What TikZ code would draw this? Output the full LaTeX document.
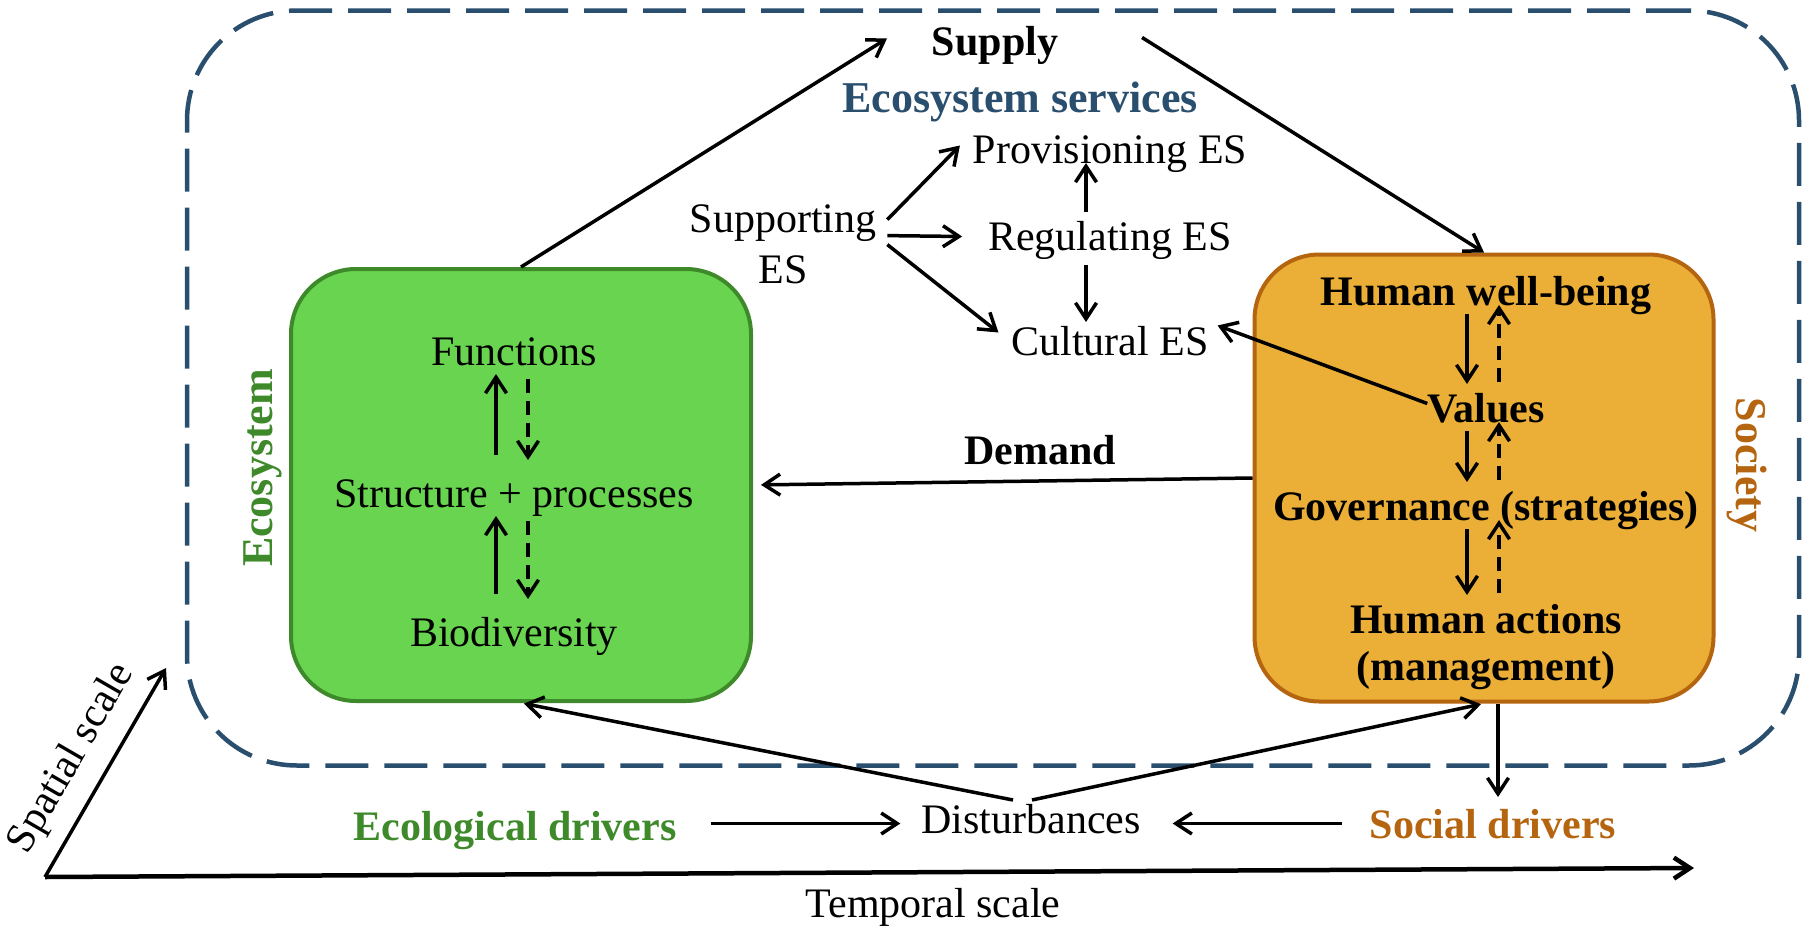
\documentclass[tikz,border=0pt]{standalone}
\usepackage{fontspec}
\setmainfont{Liberation Serif}
\usetikzlibrary{%
    arrows.meta,
    calc,
    positioning
}
\definecolor{esblue}{HTML}{294E6E}
\definecolor{ecofill}{HTML}{69D44F}
\definecolor{ecoline}{HTML}{3E8A2B}
\definecolor{socfill}{HTML}{EBAF37}
\definecolor{socline}{HTML}{B5650F}
\tikzset{headarrow/.style = {-{Straight Barb[length=16pt,width=21pt]}}}
\tikzset{feedback/.style = {dash pattern=on 14pt off 8pt,headarrow}}
\tikzset{lbl/.style = {inner sep=0pt,outer sep=0pt,text height=28pt,text depth=9pt,anchor=base}}
\tikzset{bigbox/.style = {draw,line width=4pt,rounded corners=65pt}}

\begin{document}
\begin{tikzpicture}[x=1pt,y=-1pt,line width=3.5pt]
    \fontsize{42}{51}\selectfont
    \useasboundingbox (0,0) rectangle (1804,926);

    \node[draw=esblue,line width=4.5pt,dash pattern=on 43pt off 16pt,rounded corners=110pt,
          minimum width=1612pt,minimum height=755pt] (frame) at (993,388) {};
    \node[bigbox,draw=ecoline,fill=ecofill,minimum width=460pt,minimum height=432pt] (ecosys) at (521,485) {};
    \node[bigbox,draw=socline,fill=socfill,minimum width=459pt,minimum height=447pt] (society) at (1484,478) {};

    \node[lbl,text=ecoline,font=\fontsize{44}{50}\selectfont\bfseries,rotate=90] (ecolabel) at (272,468) {Ecosystem};
    \node[lbl,text=socline,font=\fontsize{44}{50}\selectfont\bfseries,rotate=-90] (soclabel) at (1736,465) {Society};

    \node[lbl] (functions) at (514,365) {Functions};
    \node[lbl,below=105pt of functions] (structure) {Structure + processes};
    \node[lbl,below=102pt of structure] (biodiv) {Biodiversity};

    \node[lbl,font=\bfseries] (wellbeing) at (1486,305) {Human well-being};
    \node[lbl,font=\bfseries,below=80pt of wellbeing] (values) {Values};
    \node[lbl,font=\bfseries,below=61pt of values] (governance) {Governance (strategies)};
    \node[lbl,font=\bfseries,below=76pt of governance] (actions) {Human actions};
    \node[lbl,font=\bfseries,below=10pt of actions] (mgmt) {(management)};

    \node[lbl,font=\bfseries] (supply) at (995,55) {Supply};
    \node[lbl,text=esblue,font=\fontsize{44}{50}\selectfont\bfseries] (services) at (1020,112) {Ecosystem services};
    \node[lbl] (reg) at (1110,250) {Regulating ES};
    \node[lbl,above=50pt of reg] (prov) {Provisioning ES};
    \node[lbl,below=68pt of reg] (cult) {Cultural ES};
    \node[align=center,inner sep=0pt,outer sep=0pt,anchor=north] (supp) at (783,205) {Supporting\\ES};
    \node[lbl,font=\bfseries] (demand) at (1040,464) {Demand};

    \node[lbl] (disturb) at (1031,833) {Disturbances};
    \node[lbl,text=ecoline,font=\bfseries] (ecodrivers) at (515,840) {Ecological drivers};
    \node[lbl,text=socline,font=\bfseries] (socdrivers) at (1493,838) {Social drivers};
    \node[lbl] (temporal) at (933,917) {Temporal scale};

    % scale axes
    \coordinate (origin) at (45,877);
    \coordinate (ttip) at (1694,868);
    \coordinate (stip) at (166,668);
    \draw[headarrow,line width=4.5pt] (origin) -- (ttip);
    \draw[headarrow] (origin) -- (stip)
        node[pos=0.48,sloped,above=15pt,inner sep=0pt] (spatial) {Spatial scale};

    % supply and demand
    \draw[headarrow] (ecosys.north) -- ([xshift=-45pt,yshift=7pt]supply.west);
    \draw[headarrow] ([xshift=84pt,yshift=8pt]supply.east) -- (society.north);
    \draw[headarrow,shorten >=8pt] (society.west) -- (ecosys.east);

    % services
    \draw[headarrow] ([xshift=11pt,yshift=25pt]supp.east) -- ([xshift=-13pt,yshift=8pt]prov.west);
    \draw[headarrow] ([xshift=11pt,yshift=9pt]supp.east) -- ([xshift=-26pt,yshift=4pt]reg.west);
    \draw[headarrow] ([xshift=11pt]supp.east) -- ([xshift=-13pt,yshift=13pt]cult.west);
    \draw[headarrow] ([xshift=-24pt,yshift=10pt]reg.north) -- ([xshift=-24pt]prov.base);
    \draw[headarrow,shorten <=6pt,shorten >=5pt] ([xshift=-24pt]reg.south) -- ([xshift=-24pt]cult.north);
    \draw[headarrow] ([yshift=9pt]values.west) -- ([xshift=9pt,yshift=20pt]cult.east);

    \foreach \Upper/\Lower in {functions/structure, structure/biodiv}
    {
        \draw[headarrow,shorten <=24pt] ([xshift=-18pt]\Lower.north) -- ([xshift=-18pt]\Upper.south);
        \draw[feedback,shorten <=5pt,shorten >=19pt] ([xshift=14pt]\Upper.south) -- ([xshift=14pt]\Lower.north);
    }

    \foreach \Upper/\Lower in {wellbeing/values, values/governance, governance/actions}
    {
        \draw[headarrow,shorten >=10pt] ([xshift=-19pt]\Upper.south) -- ([xshift=-19pt]\Lower.north);
        \draw[feedback,shorten <=12pt,shorten >=-9pt] ([xshift=13pt]\Lower.north) -- ([xshift=13pt]\Upper.south);
    }

    % drivers
    \draw[headarrow,shorten >=3pt] ([xshift=-18pt,yshift=5pt]disturb.north) -- (ecosys.south);
    \draw[headarrow,shorten >=3pt] ([xshift=1pt,yshift=5pt]disturb.north) -- (society.south);
    \draw[headarrow,shorten >=13pt] ([xshift=14pt]society.south) -- ([xshift=14pt]society.south |- socdrivers.north);
    \draw[headarrow,shorten <=34pt,shorten >=21pt] (ecodrivers.east |- disturb.west) -- (disturb.west);
    \draw[headarrow,shorten <=28pt,shorten >=32pt] (socdrivers.west |- disturb.east) -- (disturb.east);
\end{tikzpicture}
\end{document}
